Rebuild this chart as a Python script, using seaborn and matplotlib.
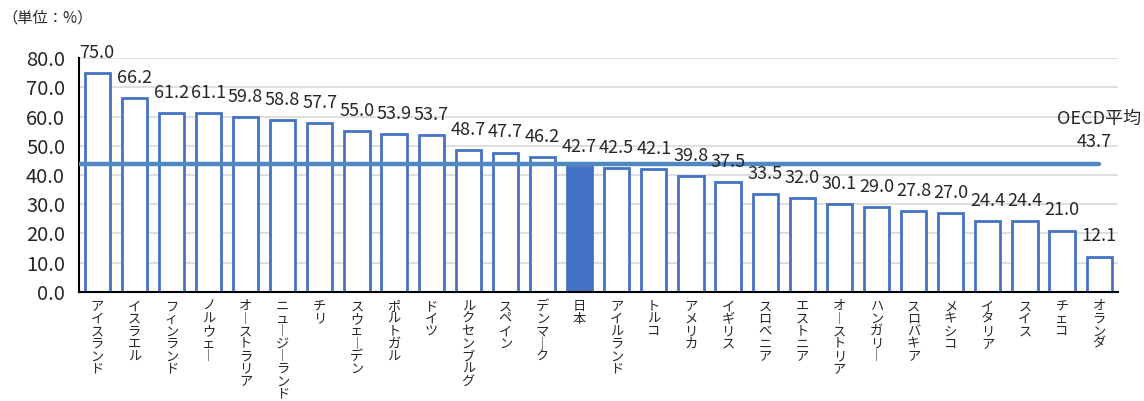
import numpy as np
import pandas as pd
import seaborn as sns
import matplotlib.pyplot as plt

countries = ['アイスランド', 'イスラエル', 'フィンランド', 'ノルウェー', 'オーストラリア',
             'ニュージーランド', 'チリ', 'スウェーデン', 'ポルトガル', 'ドイツ',
             'ルクセンブルグ', 'スペイン', 'デンマーク', '日本', 'アイルランド', 'トルコ',
             'アメリカ', 'イギリス', 'スロベニア', 'エストニア', 'オーストリア', 'ハンガリー',
             'スロバキア', 'メキシコ', 'イタリア', 'スイス', 'チェコ', 'オランダ']
values = [75.0, 66.2, 61.2, 61.1, 59.8, 58.8, 57.7, 55.0, 53.9, 53.7,
          48.7, 47.7, 46.2, 42.7, 42.5, 42.1, 39.8, 37.5, 33.5, 32.0,
          30.1, 29.0, 27.8, 27.0, 24.4, 24.4, 21.0, 12.1]
oecd_avg = 43.7
highlight = '日本'
yticks = [0, 10, 20, 30, 40, 50, 60, 70, 80]

blue = '#4472C4'
line_blue = '#5089C2'

sns.set_style('white')
plt.rcParams['font.family'] = ['Noto Sans CJK JP', 'DejaVu Sans']

df = pd.DataFrame({'country': countries, 'value': values})

fig = plt.figure(figsize=(11.44, 4.01), dpi=100)
ax = fig.add_axes([0.069, 0.272, 0.908, 0.583])

sns.barplot(data=df, x='country', y='value', color='white', edgecolor=blue,
            linewidth=2, width=0.68, saturation=1, ax=ax, zorder=2)
for patch, c in zip(ax.patches, countries):
    patch.set_facecolor(blue if c == highlight else 'white')

n = len(countries)
ax.plot([-0.49, n - 1], [oecd_avg, oecd_avg], color=line_blue, lw=3.2,
        solid_capstyle='round', zorder=3)
ax.text(n - 1, oecd_avg + 12.5, 'OECD平均', ha='center', va='bottom', fontsize=13)
ax.text(n - 1 + 0.35, oecd_avg + 4.5, f'{oecd_avg:.1f}', ha='right', va='bottom', fontsize=13)

for i, v in enumerate(values):
    ax.annotate(f'{v:.1f}', (i, v), xytext=(0, 8), textcoords='offset points',
                ha='center', va='bottom', fontsize=13)

ax.set_xlim(-0.49, n - 0.5)
ax.set_ylim(0, 80)
ax.set_yticks(yticks)
ax.set_yticklabels([f'{t:.1f}' for t in yticks], fontsize=14.5)
ax.yaxis.grid(True, color='#d9d9d9', lw=1.2, zorder=0)
ax.set_axisbelow(True)

vert = [('\n'.join(c)).replace('ー', '︱') for c in countries]
ax.set_xticks(range(n))
ax.set_xticklabels(vert, fontsize=9.5, va='top', linespacing=0.95)
ax.tick_params(axis='x', length=0, pad=6)
ax.tick_params(axis='y', length=0, pad=10)
ax.set_xlabel('')
ax.set_ylabel('')

for s in ['top', 'right']:
    ax.spines[s].set_visible(False)
for s in ['left', 'bottom']:
    ax.spines[s].set_color('black')
    ax.spines[s].set_linewidth(1.5)

fig.text(0.002, 0.955, '（単位：%）', fontsize=11, ha='left', va='center')

fig.savefig('out.png', dpi=100)
